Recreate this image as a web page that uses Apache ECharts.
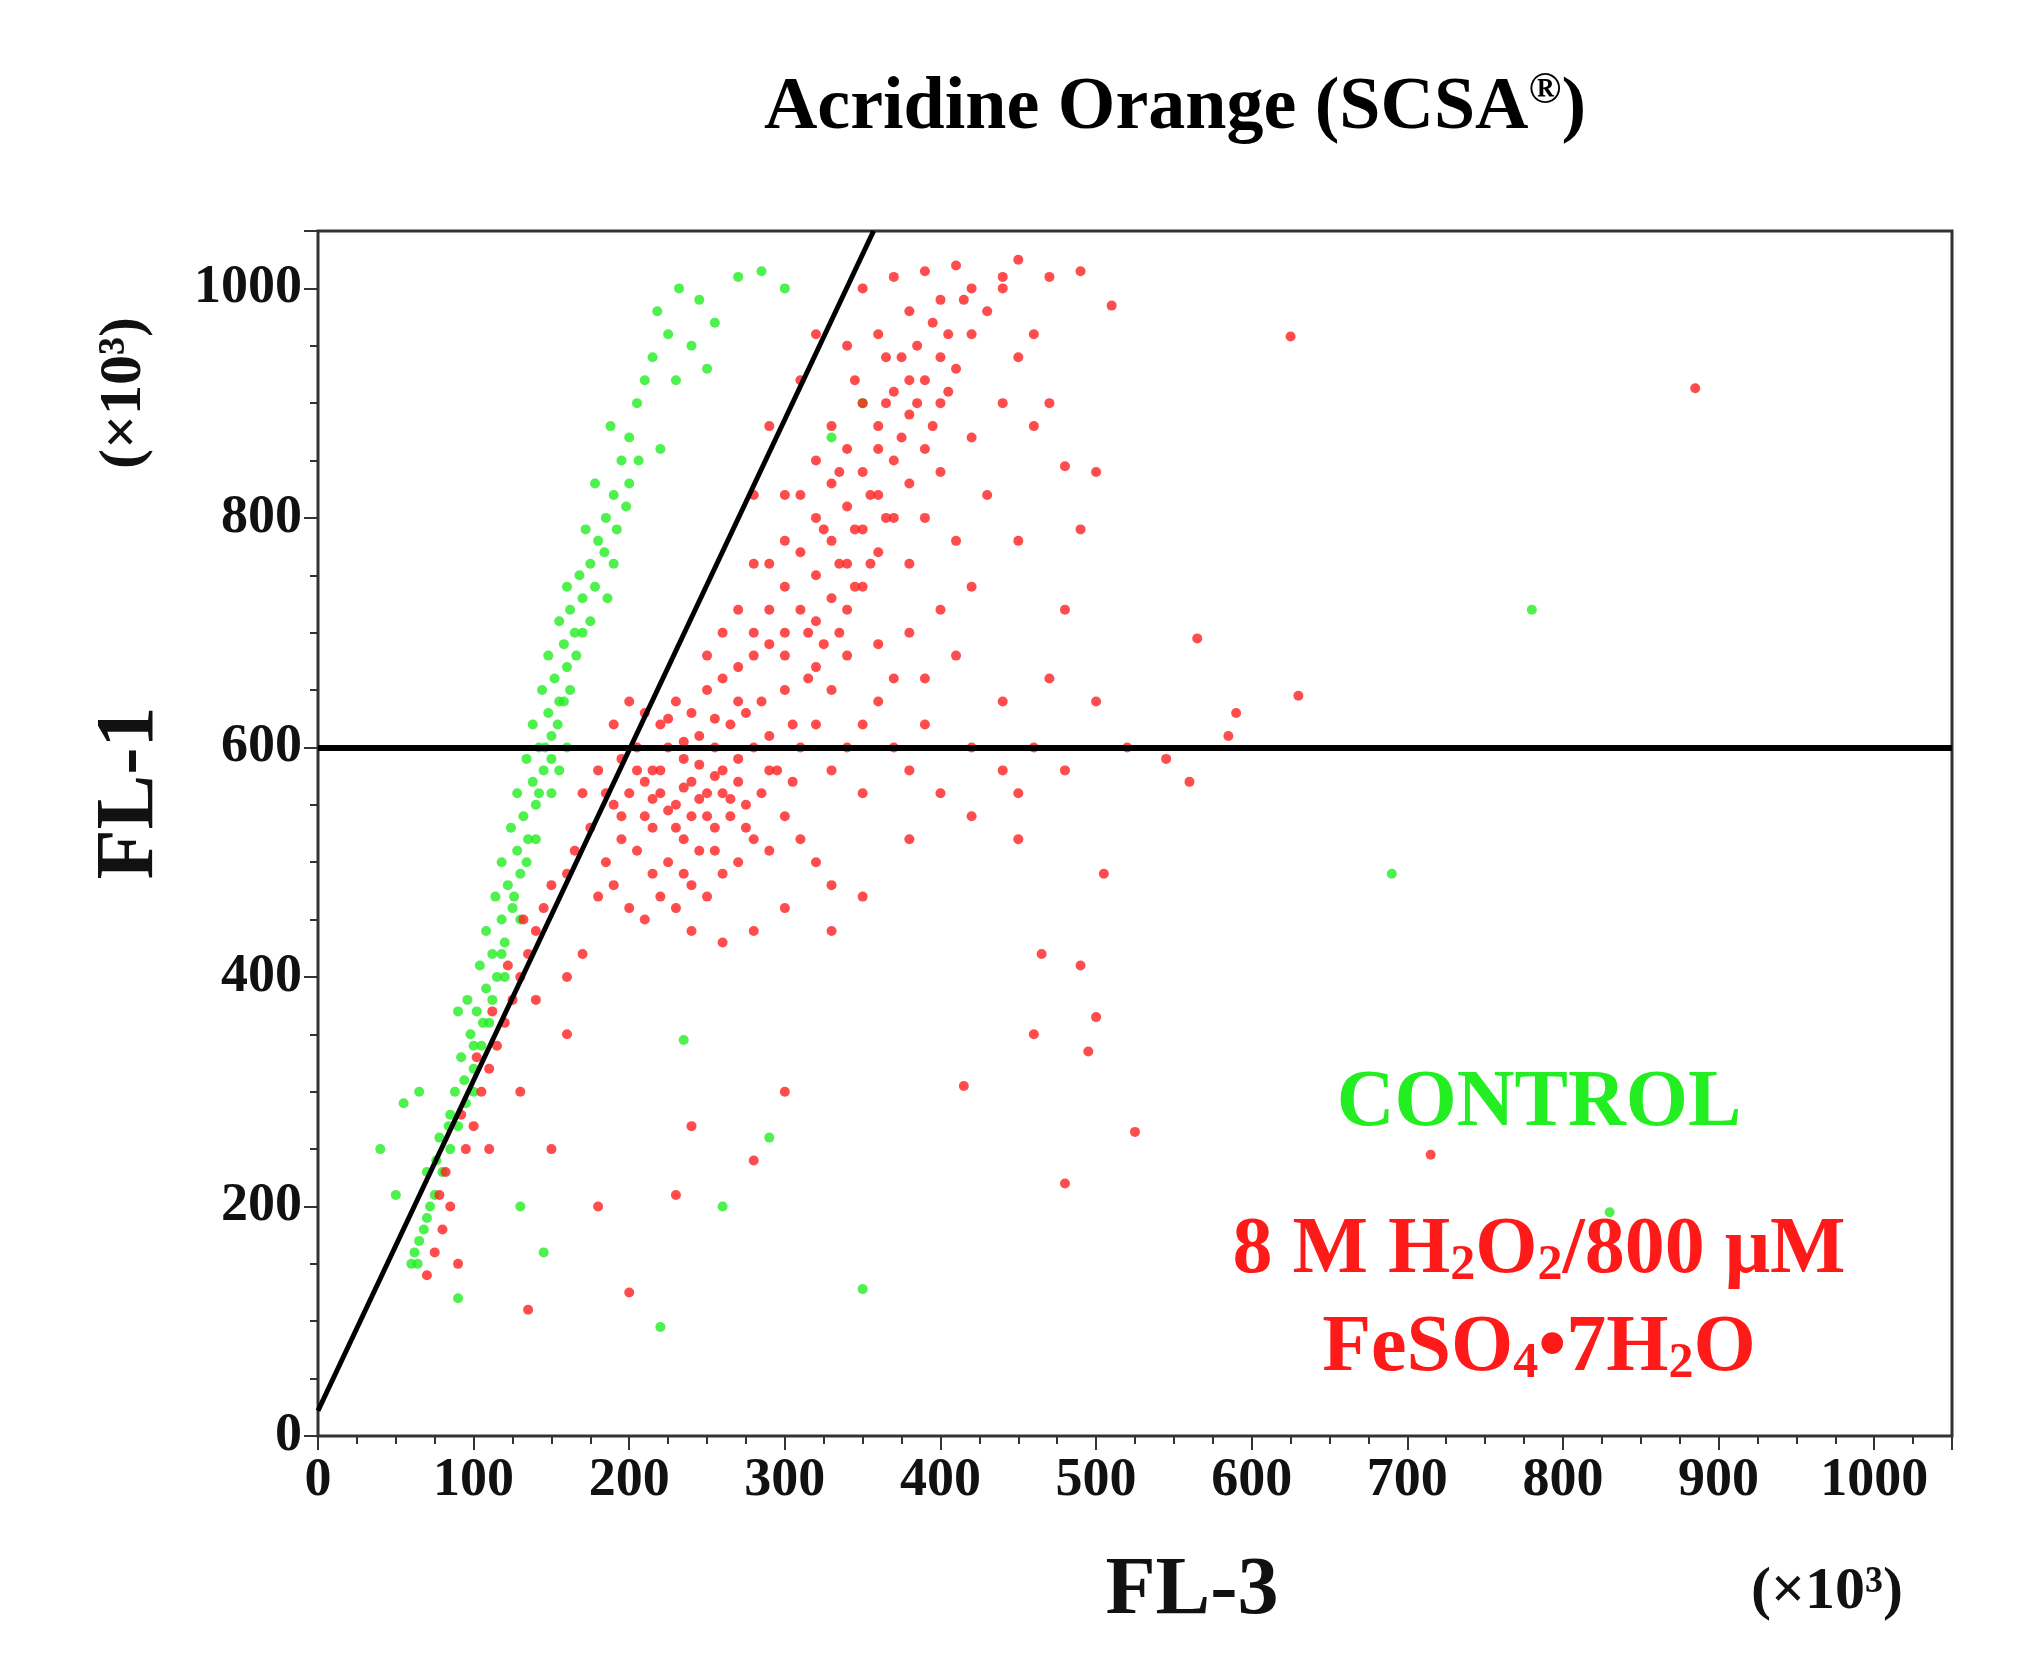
<!DOCTYPE html>
<html><head><meta charset="utf-8">
<script src="https://cdn.jsdelivr.net/npm/echarts@6/dist/echarts.min.js"></script>
<style>html,body{margin:0;background:#fff}#main{width:2044px;height:1659px}</style>
</head><body><div id="main"></div>
<script>
var controlPts = [[60,150],[65,170],[70,190],[62,160],[75,210],[80,230],[72,200],[85,250],[90,270],[78,260],[95,290],[88,300],[100,320],[92,330],[105,340],[98,350],[110,360],[102,370],[96,380],[108,390],[115,400],[104,410],[112,420],[120,430],[108,440],[118,450],[125,460],[114,470],[122,480],[130,490],[118,500],[128,510],[135,520],[124,530],[132,540],[140,550],[128,560],[138,570],[145,580],[134,590],[142,600],[150,610],[138,620],[148,630],[155,640],[144,650],[152,660],[160,670],[148,680],[158,690],[165,700],[155,710],[162,720],[170,730],[160,740],[168,750],[175,760],[180,780],[172,790],[185,800],[190,820],[178,830],[195,850],[200,870],[188,880],[205,900],[210,920],[215,940],[225,960],[218,980],[232,1000],[245,990],[270,1010],[285,1015],[300,1000],[255,970],[240,950],[230,920],[250,930],[220,860],[200,830],[190,760],[175,710],[150,560],[155,580],[160,600],[130,450],[120,400],[100,300],[85,280],[70,230],[55,290],[40,250],[50,210],[65,300],[90,370],[90,120],[130,200],[145,160],[220,95],[350,128],[260,200],[235,345],[290,260],[830,195],[690,490],[780,720],[330,870],[350,900],[112,380],[118,420],[126,470],[134,500],[142,560],[150,590],[158,640],[166,680],[106,360],[100,340],[94,310],[84,270],[76,240],[68,180],[64,150],[140,520],[146,600],[154,620],[162,650],[170,700],[178,740],[184,770],[186,730],[192,790],[198,810],[206,850]];
var treatedPts = [[70,140],[75,160],[80,180],[85,200],[78,210],[90,150],[82,230],[95,250],[100,270],[92,280],[105,300],[110,320],[102,330],[115,340],[120,360],[112,370],[125,380],[130,400],[122,410],[135,420],[140,440],[132,450],[145,460],[150,480],[140,380],[160,350],[130,300],[110,250],[150,250],[135,110],[180,200],[200,125],[230,210],[300,300],[240,270],[280,240],[160,400],[170,420],
[180,470],[190,480],[200,460],[210,450],[220,470],[230,460],[240,480],[250,470],[260,490],[270,500],[280,520],[290,510],[300,540],[185,500],[195,520],[205,510],[215,530],[225,500],[235,520],[245,510],[255,530],[265,540],[275,550],[285,560],[295,580],[305,570],[175,530],[190,550],[200,560],[210,540],[220,560],[230,550],[240,570],[250,560],[260,580],[270,590],[280,600],[290,610],[310,600],[320,620],[180,580],[195,590],[205,600],[215,580],[225,600],[235,590],[245,610],[255,600],[265,620],[275,630],[285,640],[300,650],[315,660],[330,650],[190,620],[200,640],[210,630],[220,620],[230,640],[240,630],[250,650],[260,660],[270,670],[280,680],[290,690],[170,560],[165,510],[160,490],[230,530],[250,540],[240,540],[260,560],[270,570],[220,580],[210,570],[350,620],[340,600],[360,640],[380,580],[400,560],[420,540],[450,520],[330,580],[310,520],[320,500],[330,480],[300,460],[280,440],[260,430],[240,440],[350,560],[370,600],[390,620],
[300,700],[310,720],[320,710],[330,730],[340,720],[350,740],[290,720],[280,700],[300,740],[320,750],[340,760],[360,770],[310,770],[330,780],[350,790],[370,800],[290,760],[300,780],[320,800],[340,810],[360,820],[380,830],[310,820],[330,830],[350,840],[370,850],[390,860],[320,850],[340,860],[360,880],[380,890],[400,900],[330,880],[350,900],[370,910],[390,920],[410,930],[345,920],[365,940],[385,950],[405,960],[360,960],[380,980],[400,990],[420,1000],[340,950],[370,1010],[410,1020],[440,1010],[450,1025],[430,980],[420,960],[400,940],[380,920],[360,860],[390,800],[410,780],[420,740],[400,720],[380,700],[360,690],[340,680],[320,670],[380,760],[400,840],[420,870],[440,900],[450,940],[460,880],[430,820],[450,780],[410,680],[390,660],[370,660],[300,680],[270,640],[250,680],[270,720],[260,700],[280,760],[300,820],[280,820],[290,880],[310,920],[320,960],[350,1000],[390,1015],[470,1010],[490,1015],[440,1000],[460,960],[470,900],[480,845],[500,840],[490,790],[480,720],[470,660],[500,640],[520,600],[480,580],[460,600],[440,580],[440,640],
[625,958],[885,913],[510,985],[565,695],[630,645],[585,610],[590,630],[545,590],[560,570],[465,420],[505,490],[420,600],[490,410],[500,365],[460,350],[495,335],[415,305],[525,265],[480,220],[715,245],[450,560],[380,520],[350,470],[330,440],
[215,555],[225,545],[235,565],[245,555],[255,575],[265,555],[235,605],[245,585],[225,625],[255,625],[205,580],[195,540],[185,560],[215,490],[235,490],[255,510],[275,530],[290,580],[305,620],[315,700],[325,690],[335,700],[345,740],[355,760],[335,760],[325,790],[345,790],[365,800],[355,820],[335,840],[375,870],[395,880],[365,900],[385,900],[405,910],[375,940],[395,970],[415,990]];
var gateLine = [[0,22],[357,1050]];
var gateY = 600;

var serif = 'Liberation Serif';
var chart = echarts.init(document.getElementById('main'));
chart.setOption({
  backgroundColor: '#fff',
  animation: false,
  grid: {left: 318, right: 92, top: 231, bottom: 223, show: true, borderColor: '#333', borderWidth: 3},
  xAxis: {
    type: 'value', min: 0, max: 1050, interval: 100,
    axisLine: {show: false}, splitLine: {show: false},
    axisTick: {show: true, length: 14, lineStyle: {color: '#333', width: 2}},
    minorTick: {show: true, splitNumber: 4, length: 8, lineStyle: {color: '#333', width: 2}},
    axisLabel: {fontFamily: serif, fontWeight: 'bold', fontSize: 54, color: '#111', margin: 18,
      formatter: function (v) { return v > 1000 ? '' : v; }}
  },
  yAxis: {
    type: 'value', min: 0, max: 1050, interval: 200,
    axisLine: {show: false}, splitLine: {show: false},
    axisTick: {show: true, length: 14, lineStyle: {color: '#333', width: 2}},
    minorTick: {show: true, splitNumber: 4, length: 8, lineStyle: {color: '#333', width: 2}},
    axisLabel: {fontFamily: serif, fontWeight: 'bold', fontSize: 54, color: '#111', margin: 16,
      formatter: function (v) { return v > 1000 ? '' : v; }}
  },
  series: [
    {type: 'scatter', data: controlPts, symbolSize: 10, itemStyle: {color: '#22ee22'}, z: 2},
    {type: 'scatter', data: treatedPts, symbolSize: 10, itemStyle: {color: '#ff2020'}, z: 3},
    {type: 'line', data: gateLine, symbol: 'none', lineStyle: {color: '#000', width: 5}, z: 5,
     markLine: {symbol: 'none', silent: true, label: {show: false},
       lineStyle: {color: '#000', width: 6, type: 'solid'}, data: [{yAxis: gateY}]}}
  ],
  graphic: [
    {type: 'text', x: 1175, y: 109, style: {
      text: '{a|Acridine Orange (SCSA}{s|\u00AE}{a|)}', textAlign: 'center', textVerticalAlign: 'middle',
      rich: {a: {fontFamily: serif, fontWeight: 'bold', fontSize: 74, fill: '#000'},
             s: {fontFamily: serif, fontWeight: 'bold', fontSize: 44, fill: '#000', padding: [0, 0, 34, 0]}}}},
    {type: 'text', x: 131, y: 793, rotation: Math.PI / 2, style: {text: 'FL-1', fontFamily: serif, fontWeight: 'bold', fontSize: 82, fill: '#111', textAlign: 'center', textVerticalAlign: 'middle'}},
    {type: 'text', x: 124, y: 393, rotation: Math.PI / 2, style: {text: '(\u00D710\u00B3)', fontFamily: serif, fontWeight: 'bold', fontSize: 60, fill: '#111', textAlign: 'center', textVerticalAlign: 'middle'}},
    {type: 'text', x: 1192, y: 1592, style: {text: 'FL-3', fontFamily: serif, fontWeight: 'bold', fontSize: 82, fill: '#111', textAlign: 'center', textVerticalAlign: 'middle'}},
    {type: 'text', x: 1827, y: 1592, style: {text: '(\u00D710\u00B3)', fontFamily: serif, fontWeight: 'bold', fontSize: 60, fill: '#111', textAlign: 'center', textVerticalAlign: 'middle'}},
    {type: 'text', x: 1539, y: 1104, style: {text: 'CONTROL', fontFamily: serif, fontWeight: 'bold', fontSize: 80, fill: '#22ee22', textAlign: 'center', textVerticalAlign: 'middle'}},
    {type: 'text', x: 1539, y: 1251, style: {
      text: '{a|8 M H}{s|2}{a|O}{s|2}{a|/800 \u03BCM}', textAlign: 'center', textVerticalAlign: 'middle',
      rich: {a: {fontFamily: serif, fontWeight: 'bold', fontSize: 80, fill: '#ff1a1a'},
             s: {fontFamily: serif, fontWeight: 'bold', fontSize: 50, fill: '#ff1a1a', padding: [30, 0, 0, 0]}}}},
    {type: 'text', x: 1539, y: 1349, style: {
      text: '{a|FeSO}{s|4}{a|\u20227H}{s|2}{a|O}', textAlign: 'center', textVerticalAlign: 'middle',
      rich: {a: {fontFamily: serif, fontWeight: 'bold', fontSize: 80, fill: '#ff1a1a'},
             s: {fontFamily: serif, fontWeight: 'bold', fontSize: 50, fill: '#ff1a1a', padding: [30, 0, 0, 0]}}}}
  ]
});
</script></body></html>
